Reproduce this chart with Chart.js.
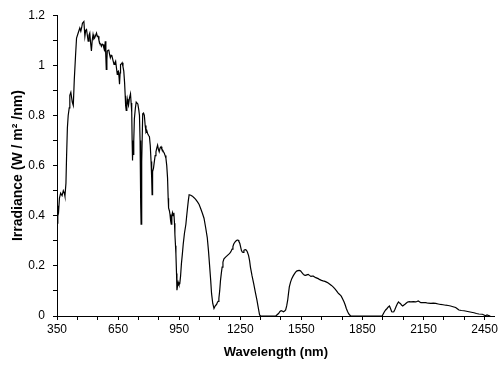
<!DOCTYPE html>
<html>
<head>
<meta charset="utf-8">
<script src="https://cdn.jsdelivr.net/npm/chart.js@4"></script>
<style>
  body { margin: 0; background: #fff; }
</style>
</head>
<body>
<canvas id="irradiance-chart" width="500" height="370"></canvas>
<script>
// SOLAR IRRADIANCE SPECTRUM
const wavelengths = [
    350, 354, 358, 362, 368, 375, 381, 386, 389, 394, 397, 401, 405, 410, 413, 418, 422, 425, 430, 435,
    441, 446, 454, 462, 467, 471, 475, 482, 487, 491, 495, 499, 503, 507, 511, 515, 519, 523, 527, 531,
    535, 540, 544, 548, 552, 556, 560, 564, 568, 572, 576, 580, 584, 587, 590, 592, 595, 597, 601, 604,
    608, 612, 616, 620, 625, 630, 634, 638, 642, 646, 649, 652, 655, 657, 660, 662, 666, 670, 674, 678,
    682, 685, 687, 690, 693, 695, 698, 701, 706, 711, 714, 717, 719, 720, 722, 724, 726, 728, 730, 735,
    739, 747, 752, 755, 758, 760, 762, 763, 765, 767, 771, 775, 779, 783, 787, 791, 795, 800, 804, 808,
    812, 815, 817, 819, 820, 824, 828, 832, 836, 840, 844, 848, 852, 856, 861, 865, 869, 873, 877, 881,
    885, 889, 893, 896, 898, 902, 905, 908, 911, 914, 917, 920, 924, 927, 929, 932, 934, 937, 939, 942,
    945, 949, 953, 957, 961, 966, 970, 976, 983, 987, 991, 995, 999, 1007, 1015, 1023, 1031, 1040, 1048, 1056,
    1064, 1072, 1080, 1088, 1094, 1100, 1105, 1109, 1115, 1121, 1125, 1129, 1133, 1137, 1141, 1145, 1149, 1153, 1157, 1161,
    1165, 1170, 1178, 1186, 1194, 1202, 1206, 1210, 1214, 1218, 1224, 1230, 1235, 1239, 1243, 1248, 1252, 1256, 1260, 1264,
    1268, 1272, 1276, 1280, 1285, 1291, 1296, 1300, 1308, 1316, 1324, 1332, 1338, 1345, 1350, 1425, 1431, 1438, 1445, 1451,
    1456, 1462, 1468, 1473, 1478, 1483, 1487, 1491, 1497, 1503, 1510, 1516, 1521, 1527, 1533, 1539, 1544, 1548, 1554, 1560,
    1565, 1571, 1577, 1584, 1590, 1597, 1603, 1609, 1615, 1621, 1627, 1633, 1641, 1649, 1657, 1666, 1674, 1682, 1690, 1698,
    1706, 1714, 1722, 1730, 1738, 1746, 1753, 1760, 1766, 1771, 1777, 1783, 1792, 1947, 1952, 1958, 1964, 1971, 1977, 1983,
    1988, 1994, 2000, 2004, 2010, 2015, 2021, 2027, 2031, 2036, 2042, 2048, 2054, 2059, 2066, 2072, 2080, 2088, 2100, 2112,
    2118, 2124, 2130, 2137, 2149, 2161, 2173, 2186, 2198, 2210, 2222, 2234, 2246, 2259, 2271, 2283, 2295, 2308, 2316, 2324,
    2336, 2349, 2361, 2373, 2385, 2398, 2410, 2422, 2439, 2447, 2454, 2462, 2470, 2478
];
const irradiance = [
    0.37, 0.44, 0.42, 0.47, 0.49, 0.48, 0.50, 0.49, 0.478, 0.53, 0.636, 0.75, 0.80, 0.83, 0.88, 0.892, 0.87, 0.853, 0.84, 0.945,
    1.037, 1.109, 1.129, 1.149, 1.136, 1.15, 1.168, 1.175, 1.116, 1.14, 1.143, 1.12, 1.096, 1.12, 1.129, 1.09, 1.057, 1.10, 1.123, 1.105,
    1.109, 1.12, 1.129, 1.115, 1.116, 1.10, 1.089, 1.085, 1.076, 1.085, 1.083, 1.07, 1.063, 1.096, 1.03, 0.984, 1.02, 1.057, 1.06, 1.063,
    1.045, 1.030, 1.04, 1.037, 1.02, 1.004, 1.01, 1.017, 0.99, 0.964, 0.975, 0.977, 0.95, 0.925, 0.97, 1.004, 1.005, 1.010, 0.995, 0.977,
    0.93, 0.879, 0.84, 0.82, 0.85, 0.866, 0.85, 0.84, 0.87, 0.886, 0.85, 0.813, 0.70, 0.62, 0.629, 0.68, 0.642, 0.70, 0.787, 0.83,
    0.853, 0.846, 0.82, 0.80, 0.70, 0.616, 0.45, 0.366, 0.50, 0.616, 0.807, 0.81, 0.80, 0.76, 0.734, 0.74, 0.728, 0.72, 0.715, 0.68,
    0.616, 0.55, 0.484, 0.53, 0.576, 0.59, 0.616, 0.64, 0.655, 0.67, 0.682, 0.665, 0.655, 0.67, 0.675, 0.665, 0.662, 0.655, 0.649, 0.64,
    0.629, 0.60, 0.55, 0.47, 0.431, 0.42, 0.405, 0.38, 0.366, 0.40, 0.412, 0.40, 0.412, 0.37, 0.326, 0.28, 0.247, 0.17, 0.103, 0.12,
    0.135, 0.125, 0.129, 0.16, 0.208, 0.25, 0.287, 0.33, 0.366, 0.40, 0.431, 0.46, 0.484, 0.482, 0.478, 0.472, 0.465, 0.455, 0.445, 0.428,
    0.41, 0.39, 0.353, 0.313, 0.26, 0.195, 0.14, 0.09, 0.05, 0.03, 0.037, 0.043, 0.045, 0.053, 0.058, 0.07, 0.10, 0.142, 0.17, 0.195,
    0.215, 0.228, 0.235, 0.241, 0.247, 0.254, 0.26, 0.267, 0.277, 0.287, 0.295, 0.30, 0.303, 0.303, 0.298, 0.289, 0.275, 0.261, 0.255, 0.254,
    0.262, 0.264, 0.265, 0.263, 0.255, 0.241, 0.22, 0.195, 0.16, 0.129, 0.095, 0.063, 0.035, 0.004, 0, 0, 0.005, 0.01, 0.018, 0.021,
    0.02, 0.017, 0.02, 0.024, 0.04, 0.063, 0.09, 0.116, 0.135, 0.149, 0.16, 0.168, 0.174, 0.179, 0.181, 0.182, 0.181, 0.178, 0.172, 0.166,
    0.163, 0.162, 0.164, 0.166, 0.162, 0.158, 0.159, 0.159, 0.156, 0.153, 0.151, 0.149, 0.145, 0.142, 0.14, 0.138, 0.135, 0.132, 0.127, 0.122,
    0.116, 0.109, 0.101, 0.092, 0.086, 0.079, 0.068, 0.056, 0.043, 0.03, 0.018, 0.008, 0, 0, 0.008, 0.017, 0.024, 0.03, 0.036, 0.04,
    0.03, 0.017, 0.016, 0.017, 0.027, 0.037, 0.048, 0.056, 0.053, 0.05, 0.044, 0.04, 0.044, 0.047, 0.052, 0.056, 0.057, 0.056, 0.057, 0.056,
    0.058, 0.06, 0.057, 0.053, 0.053, 0.053, 0.051, 0.05, 0.051, 0.05, 0.048, 0.046, 0.045, 0.043, 0.042, 0.04, 0.037, 0.034, 0.029, 0.024,
    0.022, 0.021, 0.019, 0.017, 0.015, 0.013, 0.01, 0.008, 0.007, 0.004, 0.001, 0.004, 0.002, 0
];

const xTickLabels = [350, 650, 950, 1250, 1550, 1850, 2150, 2450];
const yTickLabels = [0, 0.2, 0.4, 0.6, 0.8, 1, 1.2];

const tickFont = { family: '"Liberation Sans Narrow", "Liberation Sans", Arial, sans-serif', size: 12 };
const titleFont = { family: '"Liberation Sans", Arial, sans-serif', size: 13, weight: 'bold' };

const ctx = document.getElementById('irradiance-chart').getContext('2d');

new Chart(ctx, {
    type: 'line',
    data: {
        datasets: [{
            data: wavelengths.map((w, i) => ({ x: w, y: irradiance[i] })),
            borderColor: '#000',
            borderWidth: 1.2,
            pointRadius: 0,
            tension: 0,
            fill: false
        }]
    },
    options: {
        responsive: false,
        animation: false,
        layout: { padding: { top: 12, right: 3, left: 0, bottom: 0 } },
        plugins: { legend: { display: false }, tooltip: { enabled: false } },
        scales: {
            x: {
                type: 'linear',
                min: 350,
                max: 2500,
                afterBuildTicks: (scale) => {
                    const t = [];
                    for (let v = 350; v <= 2450; v += 100) t.push({ value: v });
                    scale.ticks = t;
                },
                afterFit: (scale) => { scale.height = 54; },
                ticks: {
                    color: '#000',
                    font: tickFont,
                    padding: 2,
                    maxRotation: 0,
                    autoSkip: false,
                    callback: (v) => xTickLabels.includes(v) ? String(v) : ''
                },
                grid: { drawOnChartArea: false, color: '#000', tickLength: 4 },
                border: { color: '#000', width: 1 },
                title: {
                    display: true,
                    text: 'Wavelength (nm)',
                    color: '#000',
                    font: titleFont,
                    padding: { top: 0, bottom: 10 }
                }
            },
            y: {
                min: 0,
                max: 1.2,
                afterBuildTicks: (scale) => {
                    const t = [];
                    for (let k = 0; k <= 12; k++) t.push({ value: k / 10 });
                    scale.ticks = t;
                },
                afterFit: (scale) => { scale.width = 57; },
                ticks: {
                    color: '#000',
                    font: tickFont,
                    padding: 8,
                    autoSkip: false,
                    callback: (v) => {
                        const r = Math.round(v * 10) / 10;
                        return yTickLabels.includes(r) ? String(r) : '';
                    }
                },
                grid: { drawOnChartArea: false, color: '#000', tickLength: 4 },
                border: { color: '#000', width: 1 },
                title: {
                    display: true,
                    text: 'Irradiance (W / m\u00B2 /nm)',
                    color: '#000',
                    font: { family: '"Liberation Sans", Arial, sans-serif', size: 14, weight: 'bold' },
                    padding: { top: 10, bottom: 0 }
                }
            }
        }
    }
});
</script>
</body>
</html>
